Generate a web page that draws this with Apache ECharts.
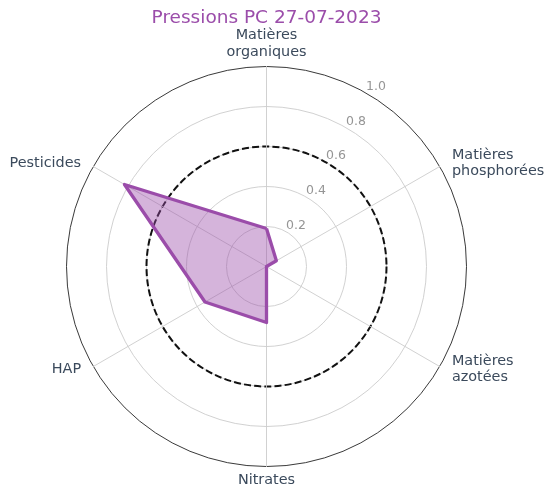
<!DOCTYPE html>
<html><head><meta charset="utf-8">
<script src="https://cdn.jsdelivr.net/npm/echarts@6/dist/echarts.min.js"></script>
<style>html,body{margin:0;padding:0;background:#fff}#c{width:547px;height:488px}</style>
</head><body><div id="c"></div>
<script>
// Categories in clockwise order starting from the top
const categories = ['Matières\norganiques', 'Matières\nphosphorées', 'Matières\nazotées', 'Nitrates', 'HAP', 'Pesticides'];
const values = [0.19, 0.057, 0.0, 0.28, 0.355, 0.82];
const tickValues = [0.2, 0.4, 0.6, 0.8, 1.0];
const thresholdValue = 0.6;
const titleText = 'Pressions PC 27-07-2023';

const FONT = 'DejaVu Sans';
const CX = 266.5, CY = 266.5, R = 200;
const PURPLE = '#9b4daa';

// ECharts radar places indicators counter-clockwise: reorder (keep first, reverse the rest)
const order = [0].concat(categories.map((_, i) => i).slice(1).reverse());
const indicators = order.map(i => ({ name: categories[i], max: 1, min: 0 }));
const radarValues = order.map(i => values[i]);

const chart = echarts.init(document.getElementById('c'), null, { renderer: 'canvas' });
chart.setOption({
  animation: false,
  backgroundColor: '#fff',
  title: {
    text: titleText, left: 261.5, top: 4, textAlign: 'center',
    textStyle: { fontFamily: FONT, fontSize: 18.5, fontWeight: 'normal', color: PURPLE }
  },
  radar: {
    center: [CX, CY], radius: R, startAngle: 90, shape: 'circle', splitNumber: 5,
    indicator: indicators,
    nameGap: 6,
    axisName: { fontFamily: FONT, fontSize: 14.4, lineHeight: 16.5, color: '#3b4a5c', padding: [0, 7, 0, 7] },
    axisLine: { lineStyle: { color: '#cccccc', width: 0.9 } },
    splitLine: { lineStyle: { color: ['#cccccc', '#cccccc', '#cccccc', '#cccccc', '#cccccc', '#222222'], width: 0.9 } },
    splitArea: { show: false },
    axisTick: { show: false },
    axisLabel: { show: false }
  },
  polar: [
    { center: [CX, CY], radius: R },
    { center: [CX, CY], radius: R * thresholdValue }
  ],
  angleAxis: [
    { polarIndex: 0, type: 'value', min: 0, max: 360, startAngle: 90, clockwise: true, show: false },
    { polarIndex: 1, type: 'value', min: 0, max: 360, startAngle: 90, clockwise: true,
      axisLine: { show: true, lineStyle: { color: '#111', width: 2, type: [7, 3.2] } },
      axisTick: { show: false }, axisLabel: { show: false }, splitLine: { show: false } }
  ],
  radiusAxis: [
    { polarIndex: 0, type: 'value', min: 0, max: 1, show: false },
    { polarIndex: 1, type: 'value', min: 0, max: 1, show: false }
  ],
  series: [
    {
      type: 'radar', z: 3, symbol: 'none',
      lineStyle: { color: PURPLE, width: 3.3 },
      areaStyle: { color: PURPLE, opacity: 0.42 },
      data: [{ value: radarValues }]
    },
    {
      type: 'scatter', coordinateSystem: 'polar', polarIndex: 0, z: 4,
      symbolSize: 1, itemStyle: { color: 'rgba(0,0,0,0)' },
      data: tickValues.map(v => [v, 30]),
      label: {
        show: true, position: 'inside', offset: [9.5, -6.6], align: 'center', verticalAlign: 'middle',
        fontFamily: FONT, fontSize: 12.5, color: '#7a7a7a',
        formatter: p => p.value[0].toFixed(1)
      }
    }
  ]
});
</script></body></html>
